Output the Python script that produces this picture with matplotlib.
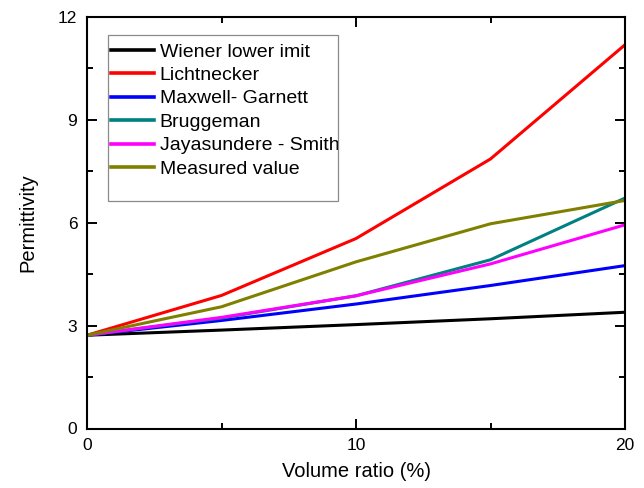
import matplotlib
matplotlib.use("Agg")
import matplotlib.pyplot as plt
from matplotlib.patches import Rectangle
from matplotlib.ticker import MultipleLocator

plt.rcParams['font.family'] = ['Liberation Sans', 'DejaVu Sans']

# volume ratio (%) and permittivity
volume = [0, 5, 10, 15, 20]
wiener = [2.72, 2.87, 3.03, 3.20, 3.39]
lichtnecker = [2.72, 3.88, 5.54, 7.86, 11.19]
maxwell = [2.72, 3.15, 3.63, 4.17, 4.75]
bruggeman = [2.72, 3.22, 3.87, 4.92, 6.72]
jayasundere = [2.72, 3.24, 3.87, 4.80, 5.94]
measured = [2.72, 3.55, 4.86, 5.97, 6.65]

series = [
    ('Wiener lower imit', wiener, 'black'),
    ('Lichtnecker', lichtnecker, '#ff0000'),
    ('Maxwell- Garnett', maxwell, '#0000ff'),
    ('Bruggeman', bruggeman, '#008080'),
    ('Jayasundere - Smith', jayasundere, '#ff00ff'),
    ('Measured value', measured, '#808000'),
]

fig = plt.figure(figsize=(6.44, 4.88), dpi=100)
ax = fig.add_axes([87 / 644, 1 - 428.5 / 488, 538 / 644, 411.5 / 488])

for label, values, color in series:
    ax.plot(volume, values, color=color, lw=2.2, label=label)

ax.set_xlim(0, 20)
ax.set_ylim(0, 12)
ax.xaxis.set_major_locator(MultipleLocator(10))
ax.xaxis.set_minor_locator(MultipleLocator(5))
ax.yaxis.set_major_locator(MultipleLocator(3))
ax.yaxis.set_minor_locator(MultipleLocator(1.5))
ax.tick_params(which='both', direction='in', top=True, right=True,
               width=1.4, labelsize=12.5, pad=7)
ax.tick_params(which='major', length=7)
ax.tick_params(which='minor', length=4.5)
for sp in ax.spines.values():
    sp.set_linewidth(1.5)

ax.set_xlabel('Volume ratio (%)', fontsize=14.5, labelpad=6)
ax.set_ylabel('Permittivity', fontsize=14.5, labelpad=15)

leg = ax.legend(loc='upper left', bbox_to_anchor=(111 / 644, 1 - 43 / 488),
                bbox_transform=fig.transFigure, frameon=False, fontsize=14,
                handlelength=2.2, handletextpad=0.3, labelspacing=0.3,
                borderpad=0, borderaxespad=0)
for line in leg.get_lines():
    line.set_linewidth(2.6)

# legend frame drawn by hand (extra room at the bottom, as in the original)
frame = Rectangle((107.5 / 644, 1 - 201 / 488), 230.5 / 644, 166 / 488,
                  transform=fig.transFigure, fill=False, edgecolor='#8a8a8a',
                  lw=0.9, zorder=5)
fig.patches.append(frame)

fig.savefig('out.png', dpi=100)
